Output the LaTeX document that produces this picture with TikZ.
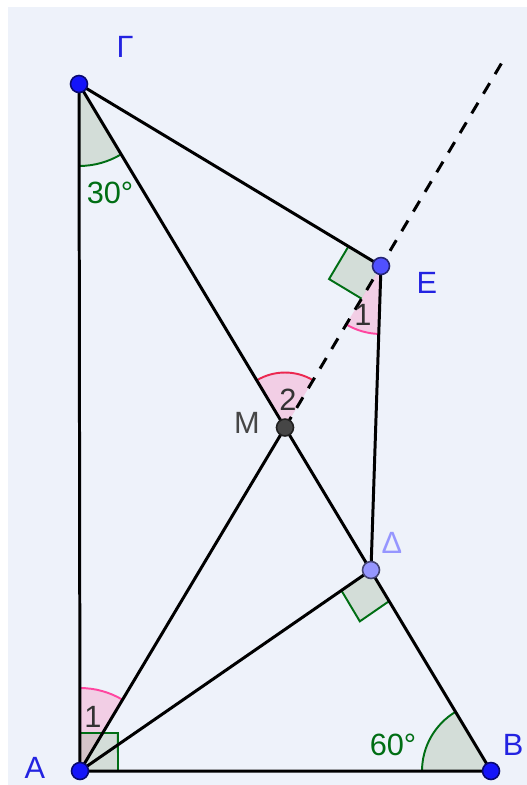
\documentclass[tikz,border=0pt]{standalone}
\usepackage{fontspec}
\setmainfont{Liberation Sans}
\usepackage{tikz}
\usetikzlibrary{calc, angles}

\definecolor{panelbg}{RGB}{238,242,250}
\definecolor{ptblue}{RGB}{20,20,250}
\definecolor{lblblue}{RGB}{35,35,225}
\definecolor{ptmid}{RGB}{80,80,255}
\definecolor{ptpale}{RGB}{150,150,255}
\definecolor{ptgray}{RGB}{70,70,70}
\definecolor{anggreen}{RGB}{0,110,20}
\definecolor{angfill}{RGB}{150,175,140}
\definecolor{angpink}{RGB}{255,70,160}
\definecolor{angred}{RGB}{235,40,80}
\definecolor{pinkfill}{RGB}{255,100,170}

\begin{document}
\begin{tikzpicture}[
  x=0.02cm, y=-0.02cm,
  seg/.style={line width=1.7pt},
  gpt/.style={circle, draw=#1!45!black, fill=#1, line width=0.9pt, inner sep=0pt, minimum size=0.34cm},
  lbl/.style={font=\fontsize{17.5}{21}\selectfont, inner sep=0pt},
  greenang/.style={draw=anggreen, line width=1.1pt, fill=angfill, fill opacity=0.3},
  pinkang/.style={draw=#1, line width=1.1pt, fill=pinkfill, fill opacity=0.25}
]
  % 1. Panel
  \useasboundingbox (0,0) rectangle (527,785);
  \fill[panelbg] (8,7) rectangle (527,785);

  % 2. Points of the figure
  \coordinate (G) at (79,84);
  \coordinate (A) at (80,771);
  \coordinate (B) at (491,771);
  \coordinate (M) at ($(G)!0.5!(B)$);
  \coordinate (D) at (371,570);
  \coordinate (E) at (381,266);
  \coordinate (R) at ($(M)!2.3!(E)$);

  % 3. Angle marks
  \pic[greenang, angle radius=1.64cm] {angle=A--G--B};
  \pic[greenang, angle radius=1.38cm] {angle=G--B--A};
  \pic[pinkang=angpink, angle radius=1.66cm] {angle=M--A--G};
  \pic[greenang, angle radius=0.76cm] {right angle=B--A--G};
  \pic[greenang, angle radius=0.72cm] {right angle=A--D--B};
  \pic[greenang, angle radius=0.76cm] {right angle=G--E--M};
  \pic[pinkang=angpink, angle radius=1.36cm] {angle=M--E--D};
  \pic[pinkang=angred, angle radius=1.1cm] {angle=E--M--G};

  % 4. Segments
  \draw[seg] (G) -- (A) -- (B) -- cycle;
  \draw[seg] (G) -- (E) -- (D);
  \draw[seg] (A) -- (M);
  \draw[seg] (A) -- (D);
  \draw[seg, dash pattern=on 7pt off 6pt] (M) -- (R);

  % 5. Dots
  \node[gpt=ptblue] (pG) at (G) {};
  \node[gpt=ptblue] (pA) at (A) {};
  \node[gpt=ptblue] (pB) at (B) {};
  \node[gpt=ptmid] (pE) at (E) {};
  \node[gpt=ptpale] (pD) at (D) {};
  \node[gpt=ptgray] (pM) at (M) {};

  % 6. Labels
  \node[lbl, text=lblblue] (lG) at (125,47) {Γ};
  \node[lbl, text=lblblue] (lE) at (427,283) {E};
  \node[lbl, text=ptgray] (lM) at (247,423) {M};
  \node[lbl, text=ptpale] (lD) at (392,543) {Δ};
  \node[lbl, text=lblblue] (lB) at (513,745) {B};
  \node[lbl, text=lblblue] (lA) at (35,768) {A};
  \node[lbl, text=anggreen] (t30) at (110,193) {30°};
  \node[lbl, text=anggreen] (t60) at (393,745) {60°};
  \node[lbl, text=black!80] (tE) at (363,315) {1};
  \node[lbl, text=black!80] (tM) at (288,400) {2};
  \node[lbl, text=black!80] (tA) at (93,717) {1};
\end{tikzpicture}
\end{document}
